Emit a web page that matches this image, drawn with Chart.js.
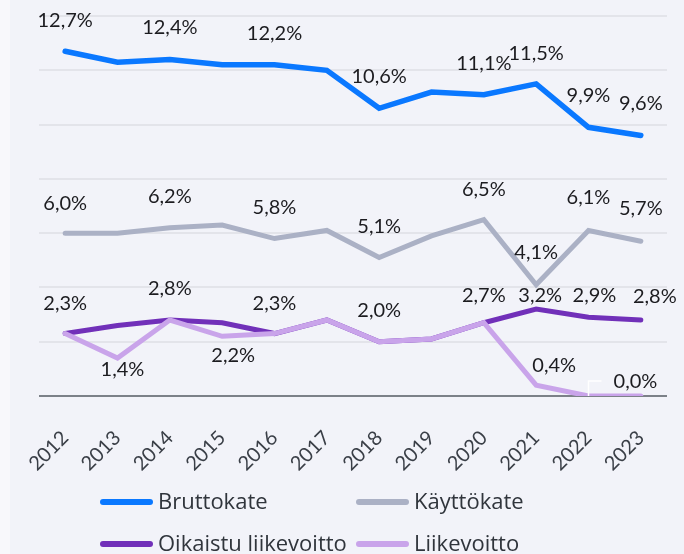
<!DOCTYPE html>
<html>
<head>
<meta charset="utf-8">
<script src="https://cdn.jsdelivr.net/npm/chart.js@4"></script>
<style>
  html, body { margin: 0; padding: 0; background: #f8f8fb; }
  #wrap { width: 684px; height: 554px; }
</style>
</head>
<body>
<div id="wrap"><canvas id="chartCanvas" width="684" height="554"></canvas></div>
<script>
// Years on the x axis
const years = ['2012', '2013', '2014', '2015', '2016', '2017', '2018', '2019', '2020', '2021', '2022', '2023'];

// Margins in percent
const bruttokate = [12.7, 12.3, 12.4, 12.2, 12.2, 12.0, 10.6, 11.2, 11.1, 11.5, 9.9, 9.6];
const kayttokate = [6.0, 6.0, 6.2, 6.3, 5.8, 6.1, 5.1, 5.9, 6.5, 4.1, 6.1, 5.7];
const oikaistuLiikevoitto = [2.3, 2.6, 2.8, 2.7, 2.3, 2.8, 2.0, 2.1, 2.7, 3.2, 2.9, 2.8];
const liikevoitto = [2.3, 1.4, 2.8, 2.2, 2.3, 2.8, 2.0, 2.1, 2.7, 0.4, 0.0, 0.0];

const seriesNames = ['Bruttokate', 'Käyttökate', 'Oikaistu liikevoitto', 'Liikevoitto'];
const seriesColors = ['#0a78ff', '#abb1c5', '#7130b9', '#c9a4ea'];

// Which points get a value label: [series, point, dx, dy]
const labelSpots = [
    [0, 0, 0, -24], [0, 2, 0, -25], [0, 4, 0, -25], [0, 6, 0, -25],
    [0, 8, 0, -25], [0, 9, 0, -24], [0, 10, 0, -25], [0, 11, 0, -25],
    [1, 0, 0, -23], [1, 2, 0, -25], [1, 4, 0, -25], [1, 6, 0, -25],
    [1, 8, 0, -24], [1, 9, 0, -26], [1, 10, 0, -26], [1, 11, 0, -26],
    [3, 0, 0, -24], [3, 1, 5, 18], [3, 2, 0, -25], [3, 3, 11, 26],
    [3, 4, 0, -24], [3, 6, 0, -25],
    [2, 8, 0, -21], [2, 9, 4, -7], [2, 10, 6, -15], [2, 11, 14, -17],
    [3, 9, 18, -13], [3, 10, 47, -8, 'leader']
];

function fmt(v) {
    return v.toFixed(1).replace('.', ',') + '%';
}

// Panel background (slightly darker than the page, starts a bit in from the left)
const panelBg = {
    id: 'panelBg',
    beforeDraw(chart) {
        const c = chart.ctx;
        c.save();
        c.fillStyle = '#f2f3f9';
        c.fillRect(10, 0, chart.width - 10, chart.height);
        c.restore();
    }
};

// Value labels drawn next to chosen points
const valueLabels = {
    id: 'valueLabels',
    afterDatasetsDraw(chart) {
        const c = chart.ctx;
        c.save();
        c.font = '20px Lato';
        c.fillStyle = '#1c1c20';
        c.textAlign = 'center';
        c.textBaseline = 'alphabetic';
        labelSpots.forEach(function(s) {
            const pt = chart.getDatasetMeta(s[0]).data[s[1]];
            const v = chart.data.datasets[s[0]].data[s[1]];
            if (s[4] === 'leader') {
                c.strokeStyle = '#ffffff';
                c.lineWidth = 1.5;
                c.beginPath();
                c.moveTo(pt.x, pt.y);
                c.lineTo(pt.x, pt.y - 15);
                c.lineTo(pt.x + 13, pt.y - 15);
                c.stroke();
            }
            c.fillText(fmt(v), pt.x + s[2], pt.y + s[3]);
        });
        c.restore();
    }
};

// Two-column legend under the axis
const lineLegend = {
    id: 'lineLegend',
    afterDraw(chart) {
        const c = chart.ctx;
        const spots = [[100, 502], [356, 502], [100, 544], [356, 544]];
        c.save();
        c.font = '22px "Open Sans"';
        c.textBaseline = 'middle';
        chart.data.datasets.forEach(function(ds, i) {
            const x = spots[i][0], y = spots[i][1];
            c.strokeStyle = ds.borderColor;
            c.lineWidth = 6;
            c.lineCap = 'round';
            c.beginPath();
            c.moveTo(x + 3, y);
            c.lineTo(x + 50, y);
            c.stroke();
            c.fillStyle = '#30353c';
            c.fillText(ds.label, x + 58, y + 1);
        });
        c.restore();
    }
};

const allSeries = [bruttokate, kayttokate, oikaistuLiikevoitto, liikevoitto];
const drawOrder = [0, 0, 1, 0];

var ctx = document.getElementById('chartCanvas').getContext('2d');
var marginChart = new Chart(ctx, {
    type: 'line',
    data: {
        labels: years,
        datasets: allSeries.map(function(d, i) {
            return {
                label: seriesNames[i],
                data: d,
                borderColor: seriesColors[i],
                backgroundColor: seriesColors[i],
                borderWidth: i === 0 ? 5.5 : 5,
                borderCapStyle: 'round',
                pointRadius: 0,
                fill: false,
                tension: 0,
                order: drawOrder[i]
            };
        })
    },
    options: {
        responsive: false,
        animation: false,
        layout: { padding: { top: 16, left: 39, right: 17, bottom: 0 } },
        plugins: {
            legend: { display: false },
            tooltip: { enabled: false }
        },
        scales: {
            x: {
                offset: true,
                grid: { display: false },
                border: { display: false },
                ticks: {
                    minRotation: 45,
                    maxRotation: 45,
                    padding: 22,
                    color: '#3a3f47',
                    font: { family: 'Lato', size: 20 }
                },
                afterFit: function(s) { s.height = 158; }
            },
            y: {
                min: 0,
                max: 14,
                border: { display: false },
                ticks: { display: false, stepSize: 2 },
                grid: {
                    drawTicks: false,
                    lineWidth: 2,
                    color: function(c) { return c.tick && c.tick.value === 0 ? '#7c8188' : '#e3e4ea'; }
                },
                afterFit: function(s) { s.width = 0; }
            }
        }
    },
    plugins: [panelBg, valueLabels, lineLegend]
});
</script>
</body>
</html>
